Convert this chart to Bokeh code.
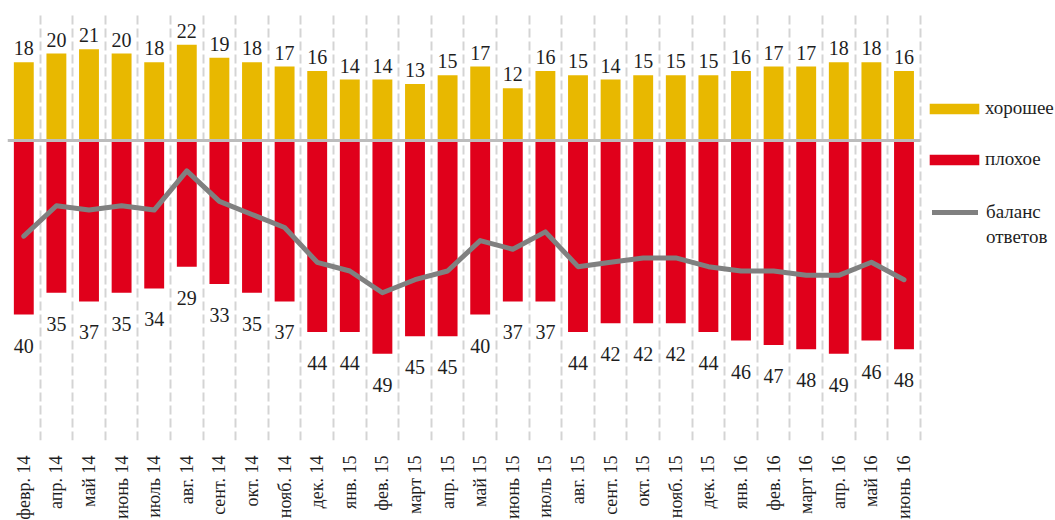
import math
from bokeh.plotting import figure
from bokeh.models import ColumnDataSource, Range1d, FixedTicker, Legend, LegendItem
from bokeh.core.properties import value
from bokeh.embed import file_html
from bokeh.resources import INLINE

categories = ["февр. 14", "апр. 14", "май 14", "июнь 14", "июль 14", "авг. 14", "сент. 14",
              "окт. 14", "нояб. 14", "дек. 14", "янв. 15", "фев. 15", "март 15", "апр. 15",
              "май 15", "июнь 15", "июль 15", "авг. 15", "сент. 15", "окт. 15", "нояб. 15",
              "дек. 15", "янв. 16", "фев. 16", "март 16", "апр. 16", "май 16", "июнь 16"]
good = [18, 20, 21, 20, 18, 22, 19, 18, 17, 16, 14, 14, 13, 15, 17, 12, 16, 15, 14, 15,
        15, 15, 16, 17, 17, 18, 18, 16]
bad = [40, 35, 37, 35, 34, 29, 33, 35, 37, 44, 44, 49, 45, 45, 40, 37, 37, 44, 42, 42,
       42, 44, 46, 47, 48, 49, 46, 48]
balance = [-22, -15, -16, -15, -16, -7, -14, -17, -20, -28, -30, -35, -32, -30, -23, -25,
           -21, -29, -28, -27, -27, -29, -30, -30, -31, -31, -28, -32]

FONT = "Liberation Sans Narrow"
YELLOW = "#E8B800"
RED = "#E0001B"
GRAY = "#808080"
TXT = "#1E1E1E"

n = len(categories)
left_pad, top_pad = 7, 11
total_w = 1055
frame_w = total_w - left_pad
frame_h = 429
px_per_cat = 32.6
px_per_unit = 4.35
zero_from_top = 129

xs = list(range(n))
src = ColumnDataSource(dict(
    x=xs, good=good, bad_neg=[-b for b in bad], balance=balance,
    good_txt=[str(v) for v in good], bad_txt=[str(v) for v in bad]))

p = figure(frame_width=frame_w, frame_height=frame_h,
           x_range=Range1d(-0.5, -0.5 + frame_w / px_per_cat),
           y_range=Range1d(-(frame_h - zero_from_top) / px_per_unit, zero_from_top / px_per_unit),
           output_backend="svg", toolbar_location=None, y_axis_location=None,
           min_border_left=left_pad, min_border_right=0, min_border_top=top_pad,
           min_border_bottom=0)
p.outline_line_color = None
p.ygrid.visible = False
p.background_fill_color = "white"

g = p.xgrid[0]
g.ticker = FixedTicker(ticks=[b - 0.5 for b in range(n + 1)])
g.grid_line_color = "#D4D4D4"
g.grid_line_width = 2
g.grid_line_dash = "9 4"

r_good = p.vbar(x="x", top="good", bottom=0, width=0.61, source=src,
                fill_color=YELLOW, line_color=None)
r_bad = p.vbar(x="x", top=0, bottom="bad_neg", width=0.61, source=src,
               fill_color=RED, line_color=None)
p.line([-0.5, n - 0.5], [0, 0], line_color="#BDBDBD", line_width=3)
r_line = p.line(x="x", y="balance", source=src, line_color=GRAY, line_width=5,
                line_join="round", line_cap="round")

p.text(x="x", y="good", text="good_txt", source=src, text_align="center",
       text_baseline="alphabetic", y_offset=-14, text_font=value(FONT),
       text_font_size="20px", text_color=TXT)
p.text(x="x", y="bad_neg", text="bad_txt", source=src, text_align="center",
       text_baseline="alphabetic", y_offset=31, text_font=value(FONT),
       text_font_size="20px", text_color=TXT)

ax = p.xaxis[0]
ax.ticker = FixedTicker(ticks=xs)
ax.major_label_overrides = {i: c for i, c in enumerate(categories)}
ax.major_label_orientation = math.pi / 2
ax.axis_line_color = None
ax.major_tick_line_color = None
ax.minor_tick_line_color = None
ax.major_tick_out = 0
ax.major_tick_in = 0
ax.major_label_standoff = 15
ax.major_label_text_font = FONT
ax.major_label_text_font_size = "18px"
ax.major_label_text_color = TXT

common = dict(padding=0, margin=0, border_line_color=None, background_fill_alpha=0,
              label_text_font=FONT, label_text_font_size="19px",
              label_text_color=TXT, label_height=24)
leg_bars = Legend(items=[LegendItem(label="хорошее", renderers=[r_good]),
                         LegendItem(label="плохое", renderers=[r_bad])],
                  location=(916, 269), glyph_width=62, glyph_height=13,
                  label_standoff=0, spacing=27, **common)
leg_line = Legend(items=[LegendItem(label="баланс", renderers=[r_line]),
                         LegendItem(label="ответов", renderers=[])],
                  location=(925, 191), glyph_width=46, glyph_height=12,
                  label_standoff=8, spacing=1, **common)
p.add_layout(leg_bars)
p.add_layout(leg_line)

open("out.html", "w").write(file_html(p, INLINE))
